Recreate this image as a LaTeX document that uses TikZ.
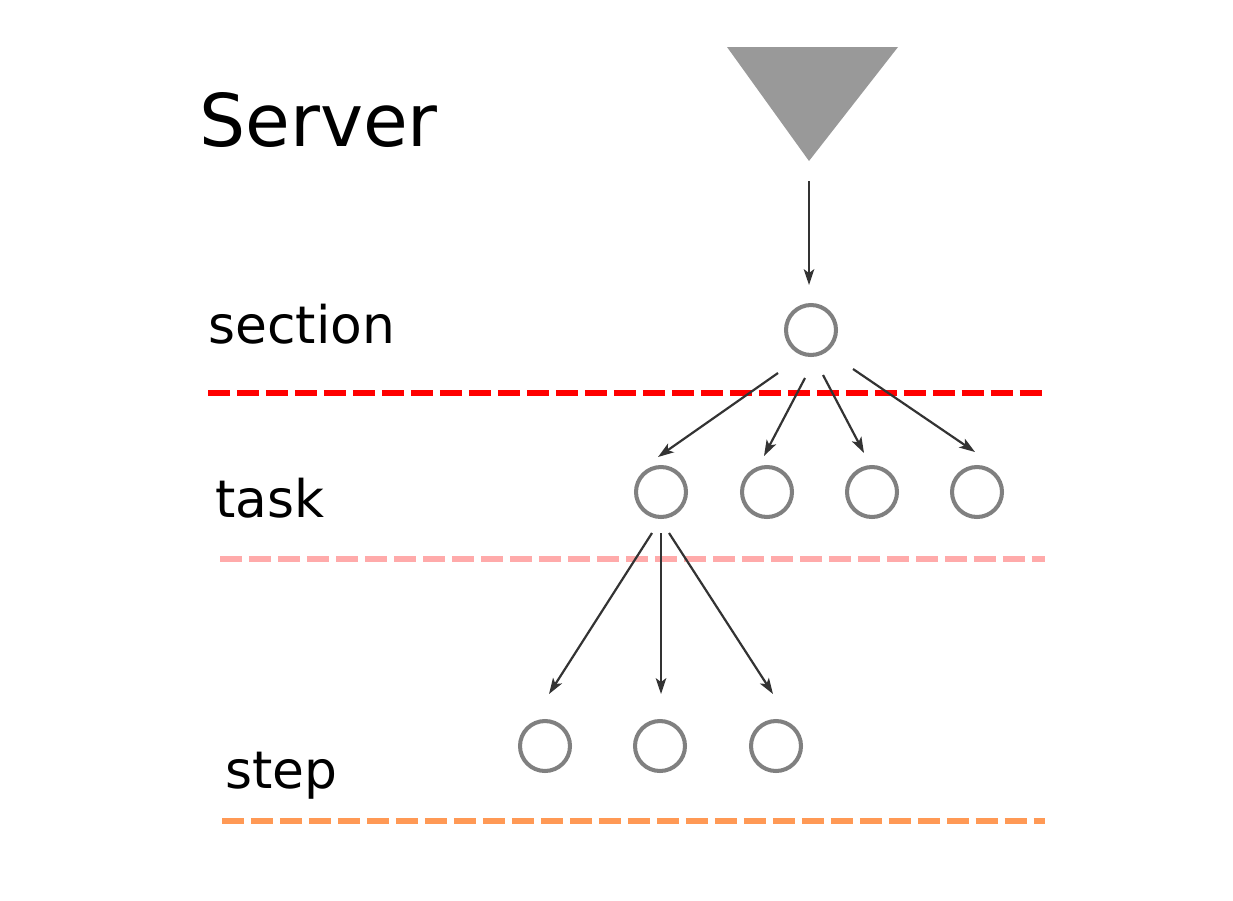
\documentclass[tikz,border=0pt]{standalone}
\usepackage{fontspec}
\setmainfont{DejaVu Sans}
\usetikzlibrary{arrows.meta}
\definecolor{secred}{RGB}{255,0,0}
\definecolor{taskpink}{RGB}{255,170,170}
\definecolor{steporange}{RGB}{255,153,85}
\definecolor{nodegray}{RGB}{128,128,128}
\definecolor{trigray}{RGB}{153,153,153}

\begin{document}
\begin{tikzpicture}[x=0.02cm,y=-0.02cm,
  level/.style={font=\fontsize{29.5pt}{34pt}\selectfont, anchor=base west, inner sep=0pt},
  job/.style={circle, draw=nodegray, line width=2.3pt, minimum size=1cm, inner sep=0pt},
  arr/.style={draw=black!80, line width=1.25pt, -{Stealth[length=9pt,width=6pt,inset=2.2pt]}},
  sepline/.style={line width=3.9pt, dash pattern=on 12.5pt off 4pt}]
\useasboundingbox (0,0) rectangle (1233,900);

%niveaux
\node[level, font=\fontsize{41.4pt}{48pt}\selectfont] (server) at (199,146) {Server};
\node[level] (lsection) at (208,343) {section};
\node[level] (ltask) at (215,517) {task};
\node[level] (lstep) at (225,788) {step};

%separations
\draw[sepline, secred] (208,393) -- (1046,393);
\draw[sepline, taskpink] (220,559) -- (1045,559);
\draw[sepline, steporange] (222,821) -- (1045,821);

%serveur
\fill[trigray] (727,47) -- (898,47) -- (809,161) -- cycle;
\coordinate (tip) at (809,161);

%noeuds
\node[job] (sec) at (811,330) {};
\node[job] (t1) at (661,492) {};
\node[job] (t2) at (767,492) {};
\node[job] (t3) at (872,492) {};
\node[job] (t4) at (977,492) {};
\node[job] (s1) at (545,746) {};
\node[job] (s2) at (660,746) {};
\node[job] (s3) at (776,746) {};

%fleches
\draw[arr] ([shift={(0,20)}]tip) -- ([shift={(-2,-45)}]sec.center);
\draw[arr] ([shift={(-33,43)}]sec.center) -- ([shift={(-3,-35)}]t1.center);
\draw[arr] ([shift={(-6,48)}]sec.center) -- ([shift={(-3,-36)}]t2.center);
\draw[arr] ([shift={(12,45)}]sec.center) -- ([shift={(-8,-39)}]t3.center);
\draw[arr] ([shift={(42,39)}]sec.center) -- ([shift={(-2,-40)}]t4.center);
\draw[arr] ([shift={(-9,41)}]t1.center) -- ([shift={(4,-52)}]s1.center);
\draw[arr] ([shift={(0,41)}]t1.center) -- ([shift={(1,-52)}]s2.center);
\draw[arr] ([shift={(8,41)}]t1.center) -- ([shift={(-3,-52)}]s3.center);

\end{tikzpicture}
\end{document}
